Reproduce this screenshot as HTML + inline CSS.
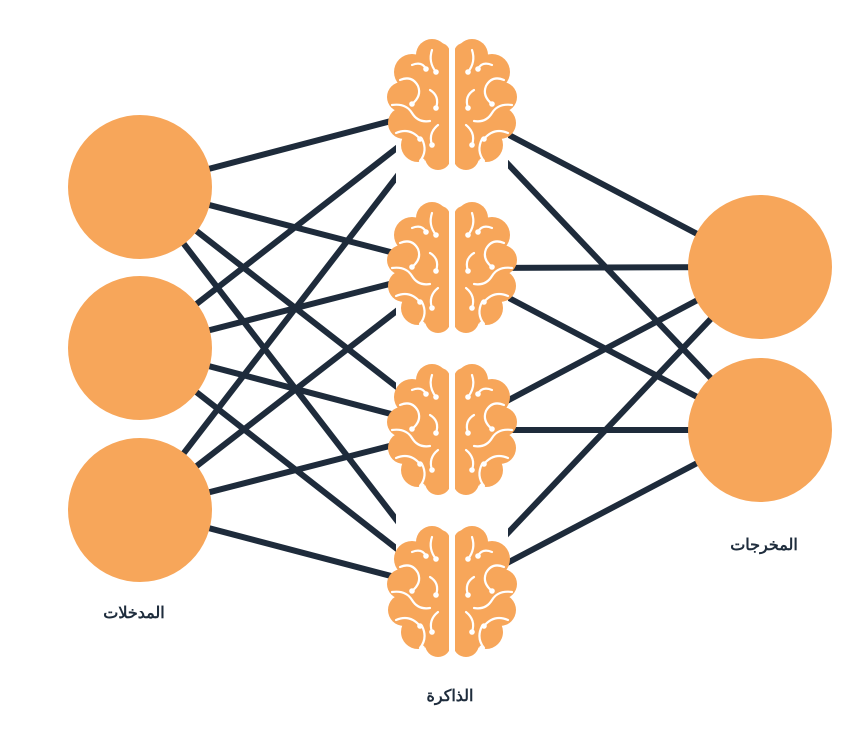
<!DOCTYPE html>
<html><head><meta charset="utf-8"><style>
html,body{margin:0;padding:0;background:#fff;width:860px;height:729px;overflow:hidden}
</style></head><body>
<svg width="860" height="729" viewBox="0 0 860 729" xmlns="http://www.w3.org/2000/svg">
<defs>
<clipPath id="lc"><rect x="-70" y="-70" width="67" height="140"/></clipPath>
<clipPath id="leftc"><rect x="0" y="0" width="396" height="729"/></clipPath>
<clipPath id="rightc"><rect x="508" y="0" width="352" height="729"/></clipPath>
<g id="half">
 <g clip-path="url(#lc)" fill="#f7a65a">
  <circle cx="-20" cy="-50" r="16"/>
  <circle cx="-40" cy="-33" r="18"/>
  <circle cx="-50" cy="-8" r="15"/>
  <circle cx="-48" cy="18" r="16"/>
  <circle cx="-34" cy="40" r="17"/>
  <circle cx="-14" cy="52" r="13"/>
  <circle cx="-22" cy="-25" r="22"/>
  <circle cx="-24" cy="2" r="24"/>
  <circle cx="-22" cy="28" r="22"/>
  <rect x="-30" y="-62" width="28" height="120" rx="10"/>
 </g>
 <g fill="none" stroke="#fff" stroke-width="2.2" stroke-linecap="round">
  <path d="M-20 -55 q-4 12 4 22"/>
  <path d="M-52 -25 q12 -5 18 6 q4 10 -6 18"/>
  <path d="M-60 0 q14 -2 20 8 q6 10 18 8"/>
  <path d="M-22 -15 q10 6 6 18"/>
  <path d="M-56 28 q14 -6 24 6"/>
  <path d="M-30 34 q6 12 -2 22"/>
  <path d="M-14 20 q-10 8 -6 20"/>
  <path d="M-40 -40 q10 -4 14 4"/>
 </g>
 <g fill="#fff">
  <circle cx="-16" cy="-33" r="2.8"/><circle cx="-40" cy="-1" r="2.8"/>
  <circle cx="-16" cy="3" r="2.8"/><circle cx="-32" cy="34" r="2.8"/>
  <circle cx="-20" cy="40" r="2.8"/><circle cx="-26" cy="-36" r="2.8"/>
  <circle cx="-30" cy="56" r="2.8"/>
 </g>
</g>
<g id="brain"><use href="#half"/><use href="#half" transform="scale(-1,1)"/></g>
</defs>
<g stroke="#1e2b3b" stroke-width="6" clip-path="url(#leftc)">
 <line x1="140" y1="187" x2="452" y2="105"/>
 <line x1="140" y1="187" x2="452" y2="268"/>
 <line x1="140" y1="187" x2="452" y2="430"/>
 <line x1="140" y1="187" x2="452" y2="592"/>
 <line x1="140" y1="348" x2="452" y2="105"/>
 <line x1="140" y1="348" x2="452" y2="268"/>
 <line x1="140" y1="348" x2="452" y2="430"/>
 <line x1="140" y1="348" x2="452" y2="592"/>
 <line x1="140" y1="510" x2="452" y2="105"/>
 <line x1="140" y1="510" x2="452" y2="268"/>
 <line x1="140" y1="510" x2="452" y2="430"/>
 <line x1="140" y1="510" x2="452" y2="592"/>
</g>
<g stroke="#1e2b3b" stroke-width="6" clip-path="url(#rightc)">
 <line x1="452" y1="105" x2="760" y2="267"/>
 <line x1="452" y1="105" x2="760" y2="430"/>
 <line x1="452" y1="268" x2="760" y2="267"/>
 <line x1="452" y1="268" x2="760" y2="430"/>
 <line x1="452" y1="430" x2="760" y2="267"/>
 <line x1="452" y1="430" x2="760" y2="430"/>
 <line x1="452" y1="592" x2="760" y2="267"/>
 <line x1="452" y1="592" x2="760" y2="430"/>
</g>
<g fill="#f7a65a">
 <circle cx="140" cy="187" r="72"/>
 <circle cx="140" cy="348" r="72"/>
 <circle cx="140" cy="510" r="72"/>
 <circle cx="760" cy="267" r="72"/>
 <circle cx="760" cy="430" r="72"/>
</g>
<use href="#brain" x="452" y="105"/>
<use href="#brain" x="452" y="268"/>
<use href="#brain" x="452" y="430"/>
<use href="#brain" x="452" y="592"/>
<g font-family="'Liberation Sans','Noto Sans CJK SC',sans-serif" font-size="16" font-weight="bold" fill="#1f2d3d" text-anchor="middle">
 <text x="134" y="618">المدخلات</text>
 <text x="764" y="550">المخرجات</text>
 <text x="450" y="701">الذاكرة</text>
</g>
</svg>
</body></html>
